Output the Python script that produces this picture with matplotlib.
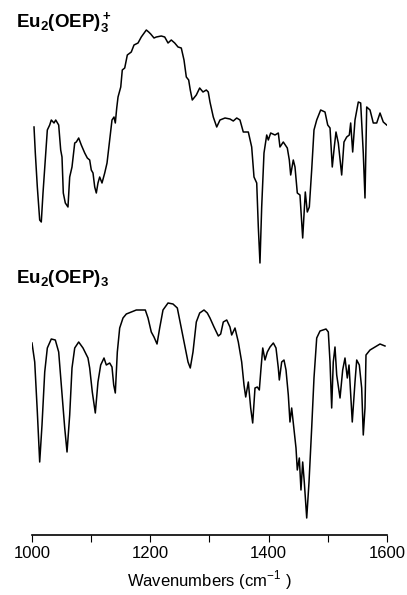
import numpy as np
import matplotlib
matplotlib.use('Agg')
import matplotlib.pyplot as plt
from matplotlib.ticker import MultipleLocator

plt.rcParams['font.family'] = ['Liberation Sans', 'DejaVu Sans']
plt.rcParams['mathtext.fontset'] = 'custom'
plt.rcParams['mathtext.rm'] = 'Liberation Sans'
plt.rcParams['mathtext.bf'] = 'Liberation Sans:bold'

# IR spectra (transmittance, arbitrary units, offset)
wn_cation = [1003.4, 1005.6, 1009.0, 1013.0, 1015.7, 1018.6, 1022.5, 1025.9, 1029.9, 1032.6,
             1037.2, 1040.1, 1045.1, 1048.5, 1050.7, 1052.9, 1056.3, 1060.8, 1063.7, 1067.6,
             1072.2, 1074.9, 1078.9, 1083.3, 1089.1, 1093.5, 1097.5, 1100.2, 1103.1, 1106.0,
             1108.7, 1111.5, 1114.4, 1118.3, 1122.9, 1126.8, 1131.3, 1135.2, 1138.6, 1140.8,
             1143.2, 1145.4, 1150.0, 1152.6, 1156.7, 1161.1, 1167.8, 1172.4, 1179.2, 1184.7,
             1193.2, 1197.2, 1200.6, 1206.2, 1210.1, 1218.5, 1224.3, 1229.9, 1235.4, 1241.2,
             1246.8, 1252.3, 1256.9, 1260.8, 1264.8, 1267.5, 1270.9, 1277.7, 1283.4, 1289.0,
             1294.6, 1297.9, 1300.8, 1306.4, 1312.2, 1317.7, 1326.2, 1334.6, 1340.2, 1346.0,
             1351.5, 1357.1, 1365.6, 1371.3, 1375.2, 1379.8, 1382.5, 1385.3, 1388.2, 1392.1,
             1396.7, 1399.4, 1403.4, 1410.7, 1416.3, 1419.1, 1424.7, 1431.5, 1434.9, 1437.2,
             1441.6, 1444.5, 1448.4, 1452.9, 1457.5, 1461.9, 1465.3, 1468.7, 1472.7, 1476.6,
             1481.2, 1487.9, 1495.2, 1499.8, 1503.7, 1507.5, 1510.9, 1513.8, 1517.7, 1523.4,
             1527.3, 1531.9, 1536.3, 1538.6, 1542.0, 1545.9, 1551.5, 1555.5, 1559.9, 1562.8,
             1565.7, 1571.3, 1576.8, 1582.6, 1588.2, 1593.7, 1599.5]
t_cation = [4.08, 3.82, 3.48, 3.15, 3.13, 3.42, 3.75, 4.05, 4.10, 4.15,
            4.12, 4.15, 4.10, 3.85, 3.78, 3.42, 3.32, 3.28, 3.58, 3.68,
            3.92, 3.93, 3.97, 3.90, 3.82, 3.77, 3.75, 3.65, 3.62, 3.48,
            3.42, 3.52, 3.58, 3.52, 3.62, 3.72, 3.95, 4.15, 4.18, 4.12,
            4.27, 4.38, 4.48, 4.65, 4.67, 4.80, 4.83, 4.90, 4.92, 4.98,
            5.05, 5.03, 5.01, 4.97, 4.98, 4.99, 4.98, 4.92, 4.95, 4.92,
            4.88, 4.87, 4.75, 4.58, 4.55, 4.45, 4.35, 4.40, 4.47, 4.43,
            4.45, 4.43, 4.33, 4.18, 4.08, 4.15, 4.17, 4.16, 4.14, 4.17,
            4.15, 4.03, 4.03, 3.88, 3.58, 3.52, 3.08, 2.72, 3.28, 3.82,
            4.00, 3.95, 4.02, 4.00, 4.02, 3.88, 3.93, 3.87, 3.75, 3.60,
            3.75, 3.68, 3.42, 3.40, 2.97, 3.43, 3.23, 3.28, 3.65, 4.05,
            4.15, 4.25, 4.23, 4.10, 4.07, 3.68, 3.88, 4.03, 3.92, 3.60,
            3.93, 3.98, 4.00, 4.12, 3.83, 4.15, 4.33, 4.32, 3.82, 3.37,
            4.28, 4.25, 4.12, 4.12, 4.22, 4.13, 4.10]

wn_neutral = [1000.0, 1004.6, 1009.0, 1013.0, 1016.9, 1021.5, 1025.9, 1032.6, 1039.4, 1045.1,
              1049.5, 1055.3, 1059.2, 1063.7, 1067.6, 1072.2, 1078.9, 1086.2, 1094.6, 1097.5,
              1101.9, 1107.0, 1111.5, 1116.1, 1121.7, 1125.6, 1131.3, 1135.2, 1138.1, 1140.8,
              1144.2, 1148.2, 1153.8, 1159.4, 1167.8, 1176.3, 1184.7, 1191.5, 1196.1, 1201.6,
              1206.2, 1211.3, 1215.8, 1221.4, 1229.9, 1238.3, 1245.6, 1251.3, 1258.1, 1263.7,
              1267.5, 1272.1, 1277.7, 1283.4, 1290.7, 1296.3, 1300.8, 1307.6, 1314.9, 1318.9,
              1323.3, 1329.1, 1334.6, 1337.5, 1343.1, 1348.7, 1354.4, 1358.3, 1361.2, 1365.6,
              1369.6, 1373.0, 1376.9, 1380.8, 1384.2, 1387.1, 1390.0, 1393.8, 1397.7, 1402.3,
              1407.9, 1412.4, 1416.3, 1418.0, 1422.0, 1425.9, 1429.3, 1433.2, 1436.0, 1438.9,
              1441.6, 1446.2, 1448.4, 1451.8, 1454.6, 1457.5, 1460.2, 1464.3, 1468.2, 1472.7,
              1476.6, 1481.2, 1486.8, 1496.9, 1500.8, 1503.7, 1506.5, 1509.2, 1512.1, 1515.0,
              1520.6, 1525.1, 1529.0, 1532.9, 1535.8, 1538.6, 1541.3, 1545.9, 1548.8, 1553.2,
              1557.2, 1559.9, 1562.8, 1564.5, 1571.3, 1579.7, 1588.2, 1596.6]
t_neutral = [1.92, 1.73, 1.23, 0.73, 1.10, 1.63, 1.87, 1.96, 1.95, 1.83,
             1.50, 1.07, 0.83, 1.20, 1.67, 1.87, 1.93, 1.87, 1.77, 1.67,
             1.43, 1.22, 1.53, 1.70, 1.77, 1.70, 1.72, 1.68, 1.50, 1.42,
             1.83, 2.07, 2.17, 2.21, 2.23, 2.25, 2.25, 2.25, 2.17, 2.03,
             1.98, 1.91, 2.07, 2.25, 2.32, 2.31, 2.27, 2.10, 1.90, 1.73,
             1.67, 1.83, 2.13, 2.22, 2.25, 2.22, 2.17, 2.08, 1.99, 2.01,
             2.13, 2.15, 2.08, 2.00, 2.07, 1.93, 1.73, 1.50, 1.38, 1.53,
             1.27, 1.12, 1.47, 1.48, 1.45, 1.67, 1.87, 1.75, 1.83, 1.88,
             1.92, 1.87, 1.67, 1.55, 1.73, 1.75, 1.65, 1.40, 1.13, 1.27,
             1.12, 0.87, 0.65, 0.77, 0.45, 0.73, 0.53, 0.17, 0.53, 1.07,
             1.57, 1.97, 2.04, 2.06, 2.03, 1.73, 1.27, 1.73, 1.88, 1.60,
             1.37, 1.65, 1.77, 1.57, 1.70, 1.40, 1.13, 1.53, 1.75, 1.70,
             1.47, 1.00, 1.27, 1.80, 1.85, 1.88, 1.91, 1.89]

labels = [r'$\mathbf{Eu_2(OEP)_3^+}$', r'$\mathbf{Eu_2(OEP)_3}$']

fig = plt.figure(figsize=(4.07, 5.95), dpi=100)
ax = fig.add_axes([32/407, 60/595, 355/407, 535/595])

ax.plot(wn_cation, t_cation, 'k-', lw=1.1)
ax.plot(wn_neutral, t_neutral, 'k-', lw=1.1)

ax.set_xlim(1000, 1600)
ax.set_ylim(0, 5.35)
for s in ['top', 'left', 'right']:
    ax.spines[s].set_visible(False)
ax.spines['bottom'].set_linewidth(1.2)
ax.set_yticks([])
ax.xaxis.set_major_locator(MultipleLocator(200))
ax.xaxis.set_minor_locator(MultipleLocator(100))
ax.tick_params(axis='x', which='both', direction='out', length=5, width=0.8,
               labelsize=12, pad=3)
ax.set_xlabel(r'Wavenumbers (cm$^{-1}$ )', fontsize=12, labelpad=5)

fig.text(16/407, 1 - 27/595, labels[0], fontsize=13.5, va='baseline')
fig.text(16/407, 1 - 283/595, labels[1], fontsize=13.5, va='baseline')

fig.savefig('out.png', dpi=100)
